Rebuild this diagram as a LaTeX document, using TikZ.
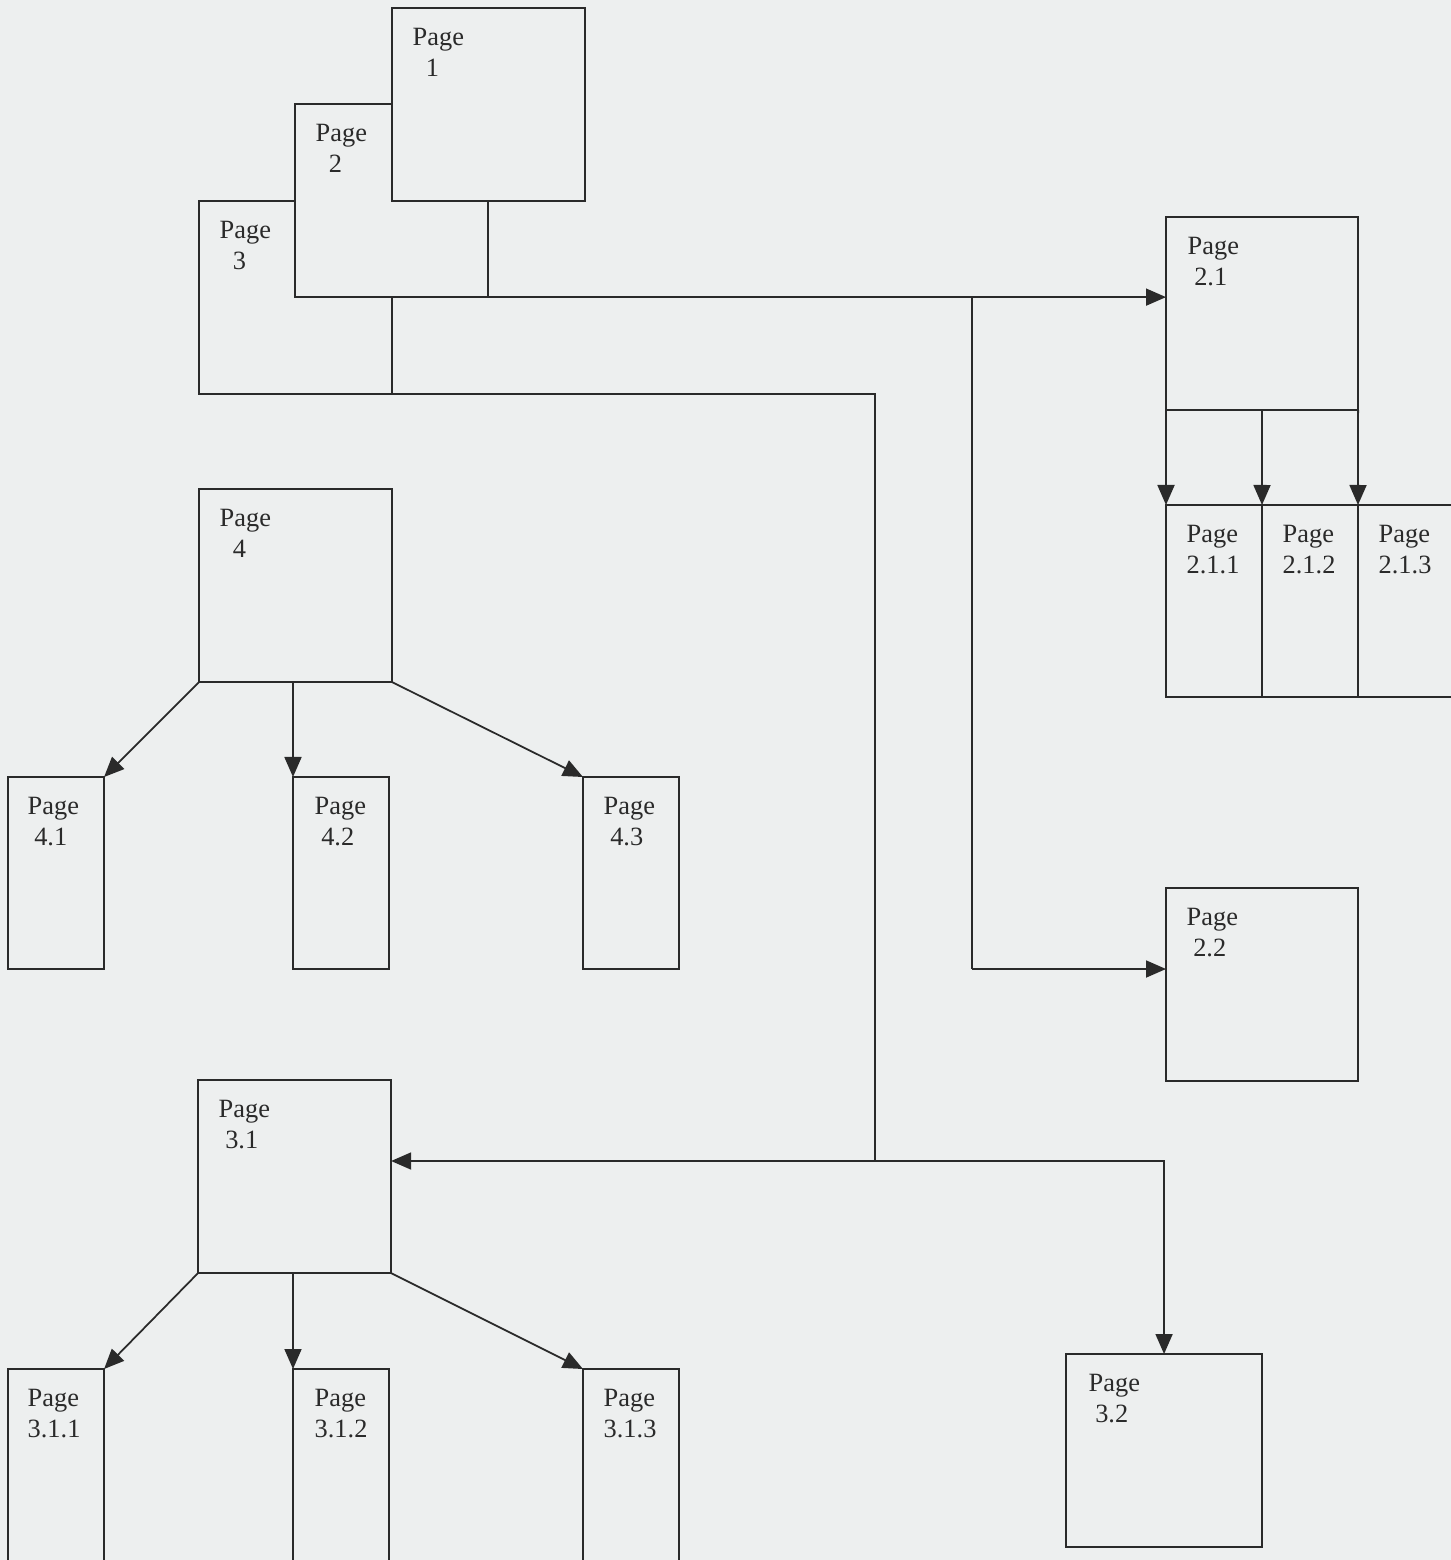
\documentclass[tikz,border=0pt]{standalone}
\usepackage{fontspec}
\setmainfont{Liberation Serif}
\usepackage{tikz}
\usetikzlibrary{arrows.meta,positioning}

\definecolor{bgc}{HTML}{EDEFEF}
\definecolor{linec}{HTML}{2A2A2A}

\tikzset{
  box/.style={draw=linec, fill=bgc, line width=0.5pt, anchor=north west,
    inner sep=0pt, outer sep=0pt},
  big/.style={box, minimum width=1.93cm, minimum height=1.93cm},
  thin/.style={box, minimum width=0.96cm, minimum height=1.92cm},
  lbl/.style={anchor=north west, inner sep=0pt, align=left, text=linec,
    font=\fontsize{7.5pt}{8.8pt}\selectfont},
  arr/.style={draw=linec, line width=0.5pt, -{Triangle[length=0.2cm,width=0.17cm]}},
  con/.style={draw=linec, line width=0.5pt}
}

\begin{document}
\begin{tikzpicture}[x=0.01cm, y=-0.01cm]
\fill[bgc] (0,0) rectangle (1451,1560);
\useasboundingbox (0,0) rectangle (1451,1560);

% top pages, stacked
\node[big] (p3) at (199,201) {};
\node[lbl] (t3) at ([shift={(20,20)}]p3.north west) {Page\\~~3};
\node[big] (p2) at (295,104) {};
\node[lbl] (t2) at ([shift={(20,20)}]p2.north west) {Page\\~~2};
\node[big] (p1) at (392,8) {};
\node[lbl] (t1) at ([shift={(20,20)}]p1.north west) {Page\\~~1};

% branch 2
\node[big, minimum width=1.92cm] (p21) at (1166,217) {};
\node[lbl] (t21) at ([shift={(21,20)}]p21.north west) {Page\\~2.1};
\node[thin] (p211) at (1166,505) {};
\node[lbl] (t211) at ([shift={(20,20)}]p211.north west) {Page\\2.1.1};
\node[thin] (p212) at (1262,505) {};
\node[lbl] (t212) at ([shift={(20,20)}]p212.north west) {Page\\2.1.2};
\node[thin] (p213) at (1358,505) {};
\node[lbl] (t213) at ([shift={(20,20)}]p213.north west) {Page\\2.1.3};
\node[big, minimum width=1.92cm] (p22) at (1166,888) {};
\node[lbl] (t22) at ([shift={(20,20)}]p22.north west) {Page\\~2.2};

% page 4
\node[big] (p4) at (199,489) {};
\node[lbl] (t4) at ([shift={(20,20)}]p4.north west) {Page\\~~4};
\node[thin] (p41) at (8,777) {};
\node[lbl] (t41) at ([shift={(19,20)}]p41.north west) {Page\\~4.1};
\node[thin] (p42) at (293,777) {};
\node[lbl] (t42) at ([shift={(21,20)}]p42.north west) {Page\\~4.2};
\node[thin] (p43) at (583,777) {};
\node[lbl] (t43) at ([shift={(20,20)}]p43.north west) {Page\\~4.3};

% branch 3
\node[big] (p31) at (198,1080) {};
\node[lbl] (t31) at ([shift={(20,20)}]p31.north west) {Page\\~3.1};
\node[thin, minimum height=2.5cm] (p311) at (8,1369) {};
\node[lbl] (t311) at ([shift={(19,20)}]p311.north west) {Page\\3.1.1};
\node[thin, minimum height=2.5cm] (p312) at (293,1369) {};
\node[lbl] (t312) at ([shift={(21,20)}]p312.north west) {Page\\3.1.2};
\node[thin, minimum height=2.5cm] (p313) at (583,1369) {};
\node[lbl] (t313) at ([shift={(20,20)}]p313.north west) {Page\\3.1.3};
\node[big, minimum width=1.96cm] (p32) at (1066,1354) {};
\node[lbl] (t32) at ([shift={(22,20)}]p32.north west) {Page\\~3.2};

% connectors
\coordinate (j2) at (972,297);
\coordinate (k2) at (972,969);
\coordinate (j3) at (875,1161);
\draw[arr] (p2.south east) -- (p2.south east -| p21.west);
\draw[con] (j2) -- (k2);
\draw[arr] (k2) -- (k2 -| p22.west);
\draw[arr] (p21.south west) -- (p211.north west);
\draw[arr] (p21.south) -- (p212.north west);
\draw[arr] (p21.south east) -- (p213.north west);

\draw[con] (p3.south east) -| (j3);
\draw[arr] (j3) -- (j3 -| p31.east);
\draw[arr] (j3) -| (p32.north);

\draw[arr] (p4.south west) -- (p41.north east);
\draw[arr] (p4.south west -| p42.north west) -- (p42.north west);
\draw[arr] (p4.south east) -- (p43.north west);

\draw[arr] (p31.south west) -- (p311.north east);
\draw[arr] (p31.south west -| p312.north west) -- (p312.north west);
\draw[arr] (p31.south east) -- (p313.north west);
\end{tikzpicture}
\end{document}
